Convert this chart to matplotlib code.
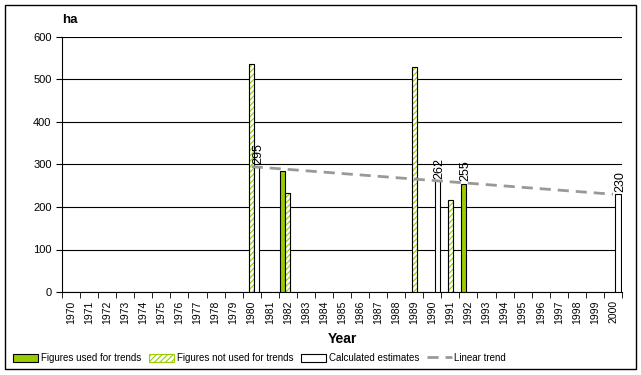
import matplotlib
matplotlib.use('Agg')
import matplotlib.pyplot as plt
import numpy as np
from matplotlib.patches import Rectangle, Patch
from matplotlib.lines import Line2D

plt.rcParams['font.family'] = ['Liberation Sans', 'DejaVu Sans']
plt.rcParams['hatch.linewidth'] = 0.8

years = list(range(1970, 2001))
# values per series
used = {1982: 285, 1992: 255}
not_used = {1980: 537, 1982: 232, 1989: 530, 1991: 216}
calculated = {1980: 295, 1990: 262, 2000: 230}
trend_years = [1980, 2000]
trend_vals = [295, 230]
labelled = {1980: 295, 1990: 262, 1992: 255, 2000: 230}

green = '#99CC00'
w = 0.28

fig = plt.figure(figsize=(6.41, 3.75), dpi=100)
ax = fig.add_axes([62 / 641, 1 - 292 / 375, 560 / 641, 255 / 375])

idx = {y: i for i, y in enumerate(years)}

ax.bar([idx[y] - w for y in used], list(used.values()), width=w,
       color=green, edgecolor='black', linewidth=0.8, zorder=3)
ax.bar([idx[y] for y in not_used], list(not_used.values()), width=w,
       color='white', edgecolor=green, hatch='//////', linewidth=0.8, zorder=3)
# black outlines for hatched bars
ax.bar([idx[y] for y in not_used], list(not_used.values()), width=w,
       color='none', edgecolor='black', linewidth=0.8, zorder=3)
ax.bar([idx[y] + w for y in calculated], list(calculated.values()), width=w,
       color='white', edgecolor='black', linewidth=0.8, zorder=3)

ax.plot([idx[y] for y in trend_years], trend_vals, color='#999999',
        linestyle=(0, (4, 2.5)), linewidth=2, zorder=4)

for y, v in labelled.items():
    xo = idx[y] - w if y in used and y not in calculated else idx[y] + w
    ax.text(xo + 0.1, v + 5, str(v), rotation=90, ha='center', va='bottom',
            fontsize=9, zorder=5)

ax.set_xlim(-0.5, len(years) - 0.5)
ax.set_ylim(0, 600)
ax.set_yticks(range(0, 601, 100))
ax.yaxis.grid(True, color='black', linewidth=0.8)
ax.set_axisbelow(True)
ax.set_xticks(range(len(years)))
ax.set_xticklabels([str(y) for y in years], rotation=90, fontsize=7.5)
ax.set_xticks(np.arange(-0.5, len(years), 1), minor=True)
ax.tick_params(axis='x', which='major', length=0, pad=6)
ax.tick_params(axis='x', which='minor', length=4, direction='out')
ax.tick_params(axis='y', length=4, labelsize=8, direction='out')
for s in ['top', 'right']:
    ax.spines[s].set_visible(False)
ax.set_xlabel('Year', fontsize=10, fontweight='bold', labelpad=6)
fig.text(62 / 641, 1 - 20 / 375, 'ha', fontsize=9.5, fontweight='bold',
         ha='left', va='center')

handles = [Patch(facecolor=green, edgecolor='black', linewidth=0.8),
           Patch(facecolor='white', edgecolor=green, hatch='//////', linewidth=0.8),
           Patch(facecolor='white', edgecolor='black', linewidth=0.8),
           Line2D([], [], color='#999999', linestyle=(0, (4, 2.5)), linewidth=2)]
labels = ['Figures used for trends', 'Figures not used for trends',
          'Calculated estimates', 'Linear trend']
fig.legend(handles, labels, loc='center', bbox_to_anchor=(0.405, 1 - 358 / 375),
           ncol=4, frameon=False, fontsize=7, handlelength=2.6, handleheight=0.9,
           columnspacing=0.8, handletextpad=0.25)

fig.patches.append(Rectangle((5 / 641, 1 - 369 / 375), 631 / 641, 364 / 375,
                             transform=fig.transFigure, fill=False,
                             edgecolor='black', linewidth=1))

fig.savefig('out.png', dpi=100)
